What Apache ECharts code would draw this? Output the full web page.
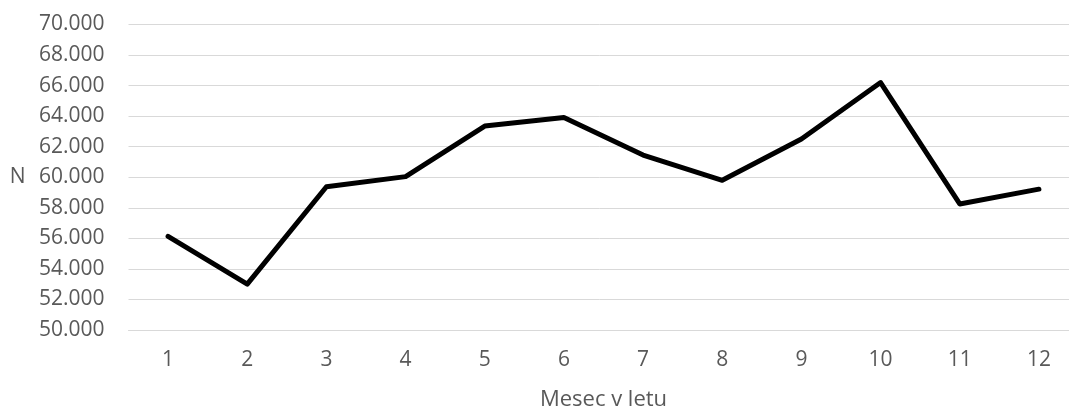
<!DOCTYPE html>
<html>
<head>
<meta charset="utf-8">
<script src="https://cdn.jsdelivr.net/npm/echarts@6/dist/echarts.min.js"></script>
<style>
  html, body { margin: 0; padding: 0; background: #ffffff; }
  #chart { width: 1069px; height: 410px; }
</style>
</head>
<body>
<div id="chart"></div>
<script>
// Months of the year (category axis)
const months = ['1', '2', '3', '4', '5', '6', '7', '8', '9', '10', '11', '12'];
// N per month
const counts = [56130, 53000, 59380, 60040, 63350, 63910, 61450, 59800, 62500, 66200, 58250, 59220];
// Value axis range
const yMin = 50000;
const yMax = 70000;
const yStep = 2000;

const textColor = '#595959';
const gridColor = '#d9d9d9';
const fontFamily = '"Open Sans", "Noto Sans", sans-serif';

// Thousands separated with a dot, e.g. 70.000
function formatThousands(v) {
  const s = String(Math.round(v));
  return s.replace(/\B(?=(\d{3})+(?!\d))/g, '.');
}

const chart = echarts.init(document.getElementById('chart'), null, { renderer: 'canvas' });
chart.setOption({
  animation: false,
  backgroundColor: '#ffffff',
  grid: {
    left: 128.5,
    top: 24.5,
    width: 950,
    height: 305.5,
    containLabel: false,
    outerBoundsMode: 'none'
  },
  xAxis: {
    type: 'category',
    data: months,
    boundaryGap: true,
    name: 'Mesec v letu',
    nameLocation: 'middle',
    nameGap: 59,
    nameTextStyle: { color: textColor, fontFamily: fontFamily, fontSize: 22 },
    axisLine: { show: true, lineStyle: { color: gridColor, width: 1 } },
    axisTick: { show: false },
    axisLabel: { color: textColor, fontFamily: fontFamily, fontSize: 21, margin: 20 },
    splitLine: { show: false }
  },
  yAxis: {
    type: 'value',
    min: yMin,
    max: yMax,
    interval: yStep,
    name: 'N',
    nameLocation: 'middle',
    nameRotate: 0,
    nameGap: 103,
    nameTextStyle: { color: textColor, fontFamily: fontFamily, fontSize: 21 },
    axisLine: { show: false },
    axisTick: { show: false },
    axisLabel: {
      color: textColor,
      fontFamily: fontFamily,
      fontSize: 21,
      margin: 24,
      formatter: formatThousands
    },
    splitLine: { show: true, lineStyle: { color: gridColor, width: 1 } }
  },
  series: [{
    type: 'line',
    data: counts,
    symbol: 'none',
    lineStyle: { color: '#000000', width: 5, cap: 'round', join: 'round' },
    z: 3
  }]
});
</script>
</body>
</html>
